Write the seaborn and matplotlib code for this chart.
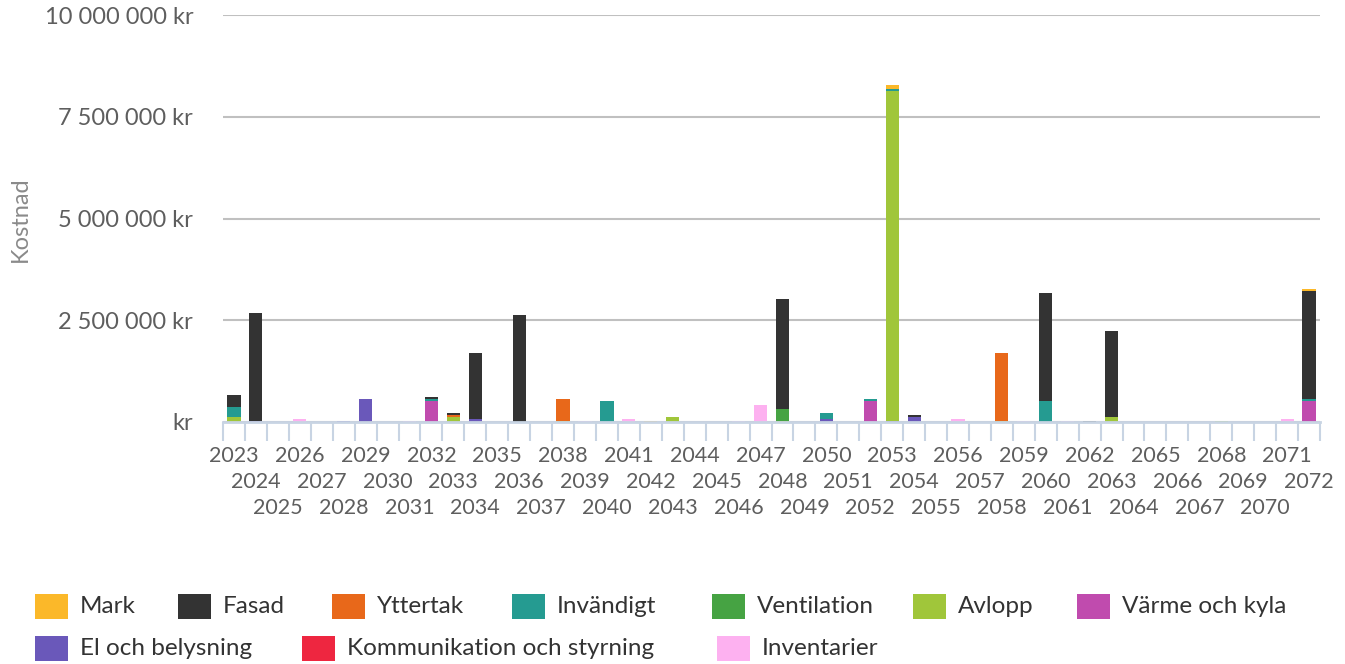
import matplotlib
matplotlib.use("Agg")
import matplotlib.pyplot as plt
from matplotlib.patches import Rectangle
from matplotlib.ticker import FuncFormatter, FixedLocator
from matplotlib.transforms import blended_transform_factory
import seaborn as sns
import pandas as pd

# ---------------- data ----------------
years = list(range(2023, 2073))
categories = ["Mark", "Fasad", "Yttertak", "Invändigt", "Ventilation", "Avlopp",
              "Värme och kyla", "El och belysning", "Kommunikation och styrning", "Inventarier"]
colors = ["#FBB829", "#333333", "#E8681A", "#259B91", "#46A343", "#A0C63A",
          "#C04BAE", "#6A58BA", "#EE2640", "#FDB1F0"]

mark = {2042: 25000, 2053: 100000, 2072: 50000}
fasad = {2023: 300000, 2024: 2650000, 2032: 50000, 2033: 50000, 2034: 1620000,
         2036: 2630000, 2048: 2700000, 2054: 50000, 2060: 2650000, 2062: 25000,
         2063: 2110000, 2072: 2650000}
yttertak = {2033: 50000, 2038: 540000, 2058: 1670000}
invandigt = {2023: 250000, 2032: 50000, 2040: 520000, 2050: 150000, 2052: 50000,
             2053: 50000, 2060: 520000, 2072: 50000}
ventilation = {2048: 300000}
avlopp = {2023: 125000, 2033: 120000, 2038: 25000, 2043: 120000, 2048: 25000,
          2053: 8100000, 2058: 25000, 2063: 120000, 2068: 25000}
varme = {2032: 520000, 2052: 520000, 2072: 520000}
el = {2024: 25000, 2028: 30000, 2029: 570000, 2034: 75000, 2050: 75000,
      2053: 25000, 2054: 120000}
kommunikation = {}
inventarier = {2026: 70000, 2031: 30000, 2039: 25000, 2041: 75000, 2046: 25000,
               2047: 420000, 2056: 75000, 2059: 25000, 2061: 25000, 2071: 75000}

series = [mark, fasad, yttertak, invandigt, ventilation, avlopp,
          varme, el, kommunikation, inventarier]

y_ticks = [0, 2500000, 5000000, 7500000, 10000000]

rows = []
for cat, s in zip(categories, series):
    for yr in years:
        rows.append({"År": yr, "Kategori": cat, "Kostnad": s.get(yr, 0)})
df = pd.DataFrame(rows)

# ---------------- style ----------------
sns.set_theme(style="white")
plt.rcParams["font.family"] = ["Lato", "DejaVu Sans"]

W, H = 1345, 664
fig = plt.figure(figsize=(W / 100, H / 100), dpi=100)
ax = fig.add_axes([223 / W, 1 - 422 / H, (1320 - 223) / W, (422 - 15) / H])

sns.histplot(data=df, x="År", weights="Kostnad", hue="Kategori",
             hue_order=categories, palette=dict(zip(categories, colors)),
             multiple="stack", discrete=True, shrink=0.6, linewidth=0,
             alpha=1, legend=False, ax=ax, zorder=3)

ax.set_xlim(years[0] - 0.5, years[-1] + 0.5)
ax.set_ylim(0, 10000000)
ax.set_xlabel("")
ax.set_ylabel("")

# y axis
ax.yaxis.set_major_locator(FixedLocator(y_ticks))
def fmt(v, pos):
    if v == 0:
        return "kr"
    return f"{v:,.0f}".replace(",", " ") + " kr"
ax.yaxis.set_major_formatter(FuncFormatter(fmt))
ax.tick_params(axis="y", length=0, pad=21.5, labelsize=17, labelcolor="#5e5e5e")
ax.grid(axis="y", color="#c0c0c0", linewidth=1.5, zorder=0)
ax.grid(axis="x", visible=False)

# x axis: boundary ticks, staggered year labels in three rows
ax.set_xticks([])
ax.set_xticks([y - 0.5 for y in years] + [years[-1] + 0.5], minor=True)
ax.tick_params(axis="x", which="minor", length=14, width=1.5, color="#c8d4e3",
               bottom=True)
trans = blended_transform_factory(ax.transData, fig.transFigure)
row_baselines = [462, 488, 514]
for i, yr in enumerate(years):
    ax.text(yr, 1 - row_baselines[i % 3] / H, str(yr), transform=trans,
            ha="center", va="baseline", fontsize=15.5, color="#5e5e5e",
            clip_on=False)

for sp in ["top", "right", "left"]:
    ax.spines[sp].set_visible(False)
ax.spines["bottom"].set_color("#c8d4e3")
ax.spines["bottom"].set_linewidth(2)
ax.spines["bottom"].set_zorder(4)

fig.text(20 / W, 1 - 219 / H, "Kostnad", rotation=90, ha="center", va="center",
         fontsize=17, color="#8a8a8a")

# legend (manual flow layout)
legend_pos = [(35, 606.5), (178, 606.5), (332, 606.5), (512, 606.5), (712, 606.5),
              (913, 606.5), (1077, 606.5), (35, 648.5), (302, 648.5), (717, 648.5)]
for (lx, ly), cat, col in zip(legend_pos, categories, colors):
    fig.patches.append(Rectangle((lx / W, 1 - (ly + 12.5) / H), 33 / W, 25 / H,
                                 transform=fig.transFigure, facecolor=col,
                                 edgecolor="none"))
    fig.text((lx + 45) / W, 1 - ly / H, cat, ha="left", va="center",
             fontsize=17.5, color="#333333")

fig.savefig("out.png", dpi=100)
